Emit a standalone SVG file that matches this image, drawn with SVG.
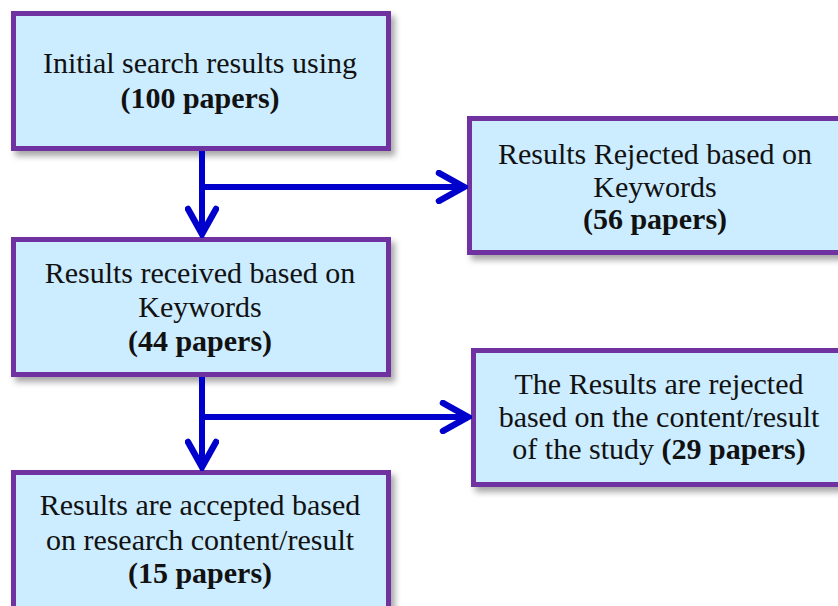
<svg xmlns="http://www.w3.org/2000/svg" width="838" height="606" viewBox="0 0 838 606">
<defs>
<filter id="sh" x="-10%" y="-10%" width="130%" height="140%">
<feDropShadow dx="4" dy="5" stdDeviation="3" flood-color="#000" flood-opacity="0.35"/>
</filter>
<marker id="ah" viewBox="0 0 34 34" refX="30" refY="17" markerWidth="34" markerHeight="34" markerUnits="userSpaceOnUse" orient="auto">
<path d="M5,3 L30,17 L5,31" fill="none" stroke="#0000CC" stroke-width="6.5" stroke-linecap="round" stroke-linejoin="miter"/>
</marker>
</defs>
<style>
.box{fill:#CCECFF;stroke:#7030A0;stroke-width:5;filter:url(#sh)}
.t{font-family:'Liberation Serif','Times New Roman','DejaVu Serif',serif;font-size:30px;fill:#111;text-anchor:middle}
.b{font-weight:bold}
.c{fill:none;stroke:#0000CC;stroke-width:6}
</style>
<rect width="838" height="606" fill="#fff"/>
<g id="n1">
<rect class="box" x="13.5" y="13.5" width="375" height="135"/>
<text class="t" x="200" y="73">Initial search results using</text>
<text class="t b" x="200" y="108">(100 papers)</text>
</g>
<g id="n2">
<rect class="box" x="469.5" y="118.5" width="375" height="134"/>
<text class="t" x="655" y="164">Results Rejected based on</text>
<text class="t" x="655" y="197">Keywords</text>
<text class="t b" x="655" y="229">(56 papers)</text>
</g>
<g id="n3">
<rect class="box" x="13.5" y="239.5" width="375" height="135"/>
<text class="t" x="200" y="283">Results received based on</text>
<text class="t" x="200" y="317">Keywords</text>
<text class="t b" x="200" y="351">(44 papers)</text>
</g>
<g id="n4">
<rect class="box" x="473.5" y="350.5" width="375" height="134"/>
<text class="t" x="659" y="394">The Results are rejected</text>
<text class="t" x="659" y="427">based on the content/result</text>
<text class="t" x="659" y="459"><tspan>of the study </tspan><tspan class="b">(29 papers)</tspan></text>
</g>
<g id="n5">
<rect class="box" x="13.5" y="472.5" width="375" height="145"/>
<text class="t" x="200" y="515">Results are accepted based</text>
<text class="t" x="200" y="550">on research content/result</text>
<text class="t b" x="200" y="583">(15 papers)</text>
</g>
<g id="connectors">
<path class="c" d="M202,151 V234" marker-end="url(#ah)"/>
<path class="c" d="M202,187 H464" marker-end="url(#ah)"/>
<path class="c" d="M202,377 V467" marker-end="url(#ah)"/>
<path class="c" d="M202,417 H468" marker-end="url(#ah)"/>
</g>
</svg>
